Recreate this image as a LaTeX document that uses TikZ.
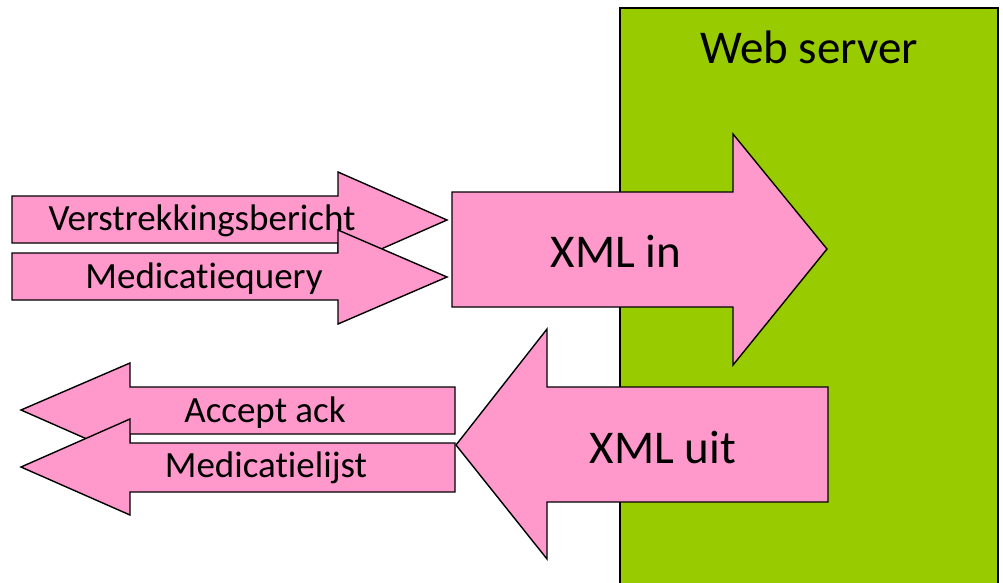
\documentclass[tikz,border=0pt]{standalone}
\usepackage{fontspec}
\setmainfont[RawFeature={-liga;-dlig;-clig}]{Carlito}
\definecolor{pinkfill}{HTML}{FF99CC}
\definecolor{greenfill}{HTML}{99CC00}
\begin{document}
\begin{tikzpicture}[x=1pt,y=-1pt,
  outlined/.style={draw=black,line width=1.4pt,line join=miter},
  arrowshape/.style={outlined,fill=pinkfill},
  bigtext/.style={font=\fontsize{47}{50}\selectfont,inner sep=0pt},
  smalltext/.style={font=\fontsize{37}{40}\selectfont,inner sep=0pt}]
\useasboundingbox (0,0) rectangle (1003,582);
% web server
\draw[outlined,fill=greenfill] (620,8) rectangle (998,600);
\node[bigtext,anchor=base] (ws) at (809,63) {Web server};
% XML in
\draw[arrowshape] (452,192) -- (733,192) -- (733,134) -- (827,249) -- (733,365) -- (733,307) -- (452,307) -- cycle;
\node[bigtext] (xin) at (616,251) {XML in};
% XML uit
\draw[arrowshape] (828,387) -- (547,387) -- (547,329) -- (456,445) -- (547,559) -- (547,502) -- (828,502) -- cycle;
\node[bigtext] (xuit) at (663,447) {XML uit};
% incoming small arrows
\draw[arrowshape] (12,196) -- (338,196) -- (338,172) -- (447,220) -- (338,268) -- (338,243) -- (12,243) -- cycle;
\node[smalltext] (vb) at (202,221) {Verstrekkingsbericht};
\draw[arrowshape] (12,253) -- (338,253) -- (338,230) -- (447,277) -- (338,324) -- (338,300) -- (12,300) -- cycle;
\node[smalltext] (mq) at (204,279) {Medicatiequery};
% outgoing small arrows
\draw[arrowshape] (455,387) -- (130,387) -- (130,363) -- (21,410) -- (130,458) -- (130,434) -- (455,434) -- cycle;
\node[smalltext] (aa) at (265,413) {Accept ack};
\draw[arrowshape] (455,443) -- (130,443) -- (130,419) -- (21,467) -- (130,515) -- (130,492) -- (455,492) -- cycle;
\node[smalltext] (ml) at (266,468) {Medicatielijst};
\end{tikzpicture}
\end{document}
